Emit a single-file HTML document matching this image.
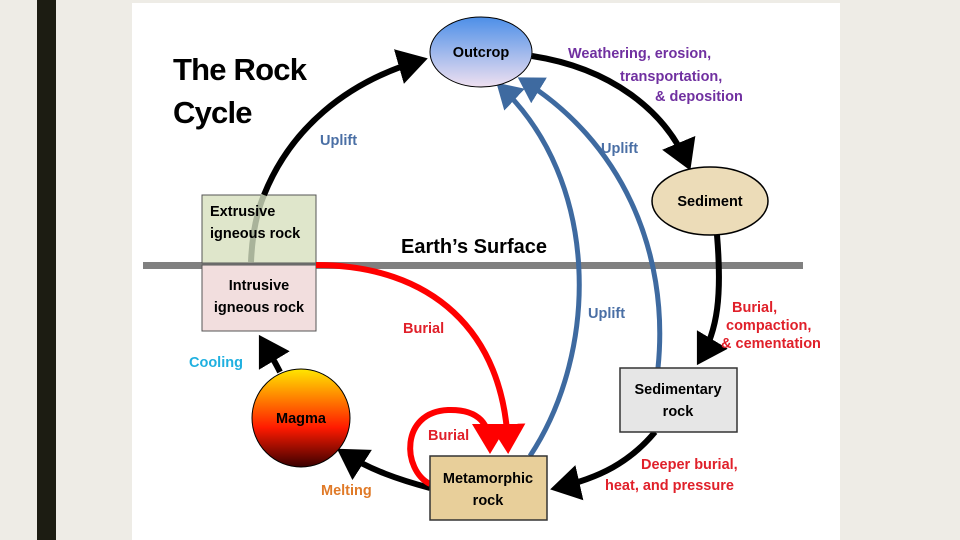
<!DOCTYPE html>
<html><head><meta charset="utf-8"><style>
html,body{margin:0;padding:0;width:960px;height:540px;overflow:hidden;background:#eeece6}
svg{position:absolute;left:0;top:0}
text{font-family:"Liberation Sans",sans-serif;font-weight:bold}
</style></head><body>
<svg width="960" height="540" viewBox="0 0 960 540">
<defs>
<marker id="ab" markerWidth="6" markerHeight="6" refX="4" refY="3" orient="auto" markerUnits="strokeWidth"><path d="M0,0 L5,3 L0,6 z" fill="#000"/></marker>
<marker id="ar" markerWidth="6" markerHeight="6" refX="4" refY="3" orient="auto" markerUnits="strokeWidth"><path d="M0,0 L5,3 L0,6 z" fill="#f00"/></marker>
<marker id="al" markerWidth="6" markerHeight="6" refX="4" refY="3" orient="auto" markerUnits="strokeWidth"><path d="M0,0 L5,3 L0,6 z" fill="#3e6aa0"/></marker>
<linearGradient id="gOut" x1="0" y1="0" x2="0" y2="1"><stop offset="0" stop-color="#4d8fe8"/><stop offset="1" stop-color="#efe0f0"/></linearGradient>
<linearGradient id="gMag" x1="0" y1="0" x2="0" y2="1"><stop offset="0" stop-color="#ffe600"/><stop offset="0.6" stop-color="#ff1a00"/><stop offset="1" stop-color="#3a0000"/></linearGradient>
</defs>
<rect x="37" y="0" width="19" height="540" fill="#1c1c12"/>
<rect x="132" y="3" width="708" height="537" fill="#fff"/>
<text x="173" y="80" font-size="31" letter-spacing="-0.8">The Rock</text>
<text x="173" y="123" font-size="31" letter-spacing="-0.8">Cycle</text>
<rect x="143" y="262" width="660" height="7" fill="#808080"/>
<rect x="202" y="195" width="114" height="68" fill="#dfe6cb" stroke="#555" stroke-width="1"/>
<rect x="202" y="265" width="114" height="66" fill="#f2dede" stroke="#555" stroke-width="1"/>
<path d="M251,262 C252,238 256,214 264,195" fill="none" stroke="#a9b39a" stroke-width="6"/>
<path d="M264,195 C290,130 345,82 422,60" fill="none" stroke="#000" stroke-width="6" marker-end="url(#ab)"/>
<path d="M532,56 C610,68 665,110 688,165" fill="none" stroke="#000" stroke-width="6" marker-end="url(#ab)"/>
<path d="M717,235 C722,295 718,330 700,360" fill="none" stroke="#000" stroke-width="6" marker-end="url(#ab)"/>
<path d="M655,432 C630,462 600,478 556,488" fill="none" stroke="#000" stroke-width="6" marker-end="url(#ab)"/>
<path d="M430,488 C400,480 370,470 342,452" fill="none" stroke="#000" stroke-width="6" marker-end="url(#ab)"/>
<path d="M280,372 C274,360 268,350 262,340" fill="none" stroke="#000" stroke-width="6" marker-end="url(#ab)"/>
<path d="M316,265 C430,265 505,330 508,448" fill="none" stroke="#f00" stroke-width="6" marker-end="url(#ar)"/>
<path d="M430,484 C402,470 400,412 448,410 C480,409 490,425 490,448" fill="none" stroke="#f00" stroke-width="6" marker-end="url(#ar)"/>
<path d="M530,456 C600,350 600,180 500,86" fill="none" stroke="#3e6aa0" stroke-width="5" marker-end="url(#al)"/>
<path d="M658,368 C670,250 620,140 522,80" fill="none" stroke="#3e6aa0" stroke-width="5" marker-end="url(#al)"/>
<ellipse cx="481" cy="52" rx="51" ry="35" fill="url(#gOut)" stroke="#000" stroke-width="1"/>
<ellipse cx="710" cy="201" rx="58" ry="34" fill="#ecdcb8" stroke="#000" stroke-width="1.5"/>
<circle cx="301" cy="418" r="49" fill="url(#gMag)" stroke="#000" stroke-width="1"/>
<rect x="430" y="456" width="117" height="64" fill="#e8cf9a" stroke="#333" stroke-width="1.5"/>
<rect x="620" y="368" width="117" height="64" fill="#e6e6e6" stroke="#333" stroke-width="1.5"/>
<g font-size="14.5" fill="#000">
<text x="481" y="57" text-anchor="middle">Outcrop</text>
<text x="710" y="206" text-anchor="middle">Sediment</text>
<text x="301" y="423" text-anchor="middle">Magma</text>
<text x="488" y="483" text-anchor="middle">Metamorphic</text>
<text x="488" y="505" text-anchor="middle">rock</text>
<text x="678" y="394" text-anchor="middle">Sedimentary</text>
<text x="678" y="416" text-anchor="middle">rock</text>
<text x="210" y="216">Extrusive</text>
<text x="210" y="238">igneous rock</text>
<text x="259" y="290" text-anchor="middle">Intrusive</text>
<text x="259" y="312" text-anchor="middle">igneous rock</text>
</g>
<text x="401" y="253" font-size="20">Earth’s Surface</text>
<g font-size="14.5">
<text x="320" y="145" fill="#4a6fa5">Uplift</text>
<text x="601" y="153" fill="#4a6fa5">Uplift</text>
<text x="588" y="318" fill="#4a6fa5">Uplift</text>
<text x="568" y="58" fill="#7030a0">Weathering, erosion,</text>
<text x="620" y="81" fill="#7030a0">transportation,</text>
<text x="655" y="101" fill="#7030a0">&amp; deposition</text>
<text x="732" y="312" fill="#e0202a">Burial,</text>
<text x="726" y="330" fill="#e0202a">compaction,</text>
<text x="721" y="348" fill="#e0202a">&amp; cementation</text>
<text x="403" y="333" fill="#e0202a">Burial</text>
<text x="428" y="440" fill="#e0202a">Burial</text>
<text x="641" y="469" fill="#e0202a">Deeper burial,</text>
<text x="605" y="490" fill="#e0202a">heat, and pressure</text>
<text x="189" y="367" fill="#1fb0e0">Cooling</text>
<text x="321" y="495" fill="#e07a28">Melting</text>
</g>
</svg>
</body></html>
